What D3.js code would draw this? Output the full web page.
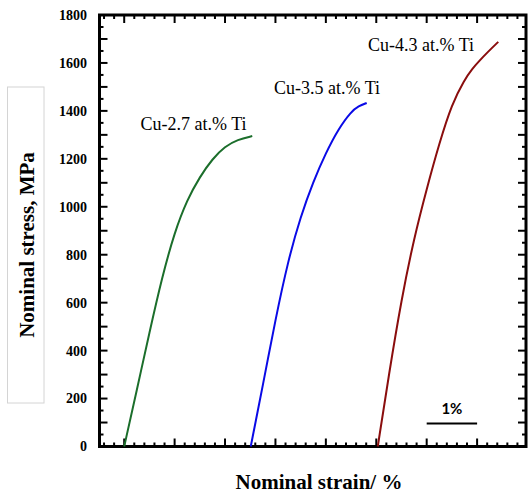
<!DOCTYPE html>
<html>
<head>
<meta charset="utf-8">
<script src="https://cdn.jsdelivr.net/npm/d3@7"></script>
<style>
  body { margin: 0; background: #fff; }
  svg { display: block; }
</style>
</head>
<body>
<div id="chart"></div>
<script>
// stress-strain curves, strain in %, stress in MPa (curves are offset along x)
const cu27Strain = [0, 0.25, 0.5, 0.75, 1.0, 1.25, 1.5, 1.75, 2.0, 2.25, 2.54];
const cu27Stress = [0, 235, 475, 705, 895, 1030, 1125, 1200, 1252, 1280, 1295];

const cu35Strain = [2.51, 2.75, 3.0, 3.25, 3.5, 3.75, 4.0, 4.25, 4.5, 4.65, 4.81];
const cu35Stress = [0, 255, 530, 775, 960, 1105, 1225, 1325, 1397, 1420, 1433];

const cu43Strain = [5.03, 5.25, 5.5, 5.75, 6.0, 6.25, 6.5, 6.75, 6.9, 7.05, 7.2, 7.42];
const cu43Stress = [0, 300, 615, 870, 1075, 1265, 1430, 1530, 1575, 1610, 1643, 1688];

const seriesNames = ["Cu-2.7 at.% Ti", "Cu-3.5 at.% Ti", "Cu-4.3 at.% Ti"];
const yTicks = [0, 200, 400, 600, 800, 1000, 1200, 1400, 1600, 1800];

const W = 529, H = 493;
const serif = "'Liberation Serif', 'Times New Roman', serif";

const svg = d3.select("#chart").append("svg")
  .attr("width", W).attr("height", H);

const x = d3.scaleLinear().domain([-0.49, 7.97]).range([99.5, 526]);
const y = d3.scaleLinear().domain([0, 1800]).range([446.5, 15]);

// ticks -- all point inward
const xMinor = d3.range(-0.4, 7.9, 0.2).map(v => +v.toFixed(1));
const yMinor = d3.range(0, 1801, 50);
const isMajorX = v => Math.abs(v - Math.round(v)) < 1e-6;
const tickLenX = v => isMajorX(v) ? 8 : 4;
const tickLenY = v => v % 100 === 0 ? 8 : 4;

const ticks = svg.append("g").attr("stroke", "#000").attr("stroke-width", 2);

ticks.selectAll("line.bx").data(xMinor).enter().append("line")
  .attr("class", "bx")
  .attr("x1", d => x(d)).attr("x2", d => x(d))
  .attr("y1", y(0)).attr("y2", d => y(0) - tickLenX(d));

ticks.selectAll("line.tx").data(xMinor).enter().append("line")
  .attr("class", "tx")
  .attr("x1", d => x(d)).attr("x2", d => x(d))
  .attr("y1", y(1800)).attr("y2", d => y(1800) + tickLenX(d));

ticks.selectAll("line.ly").data(yMinor).enter().append("line")
  .attr("class", "ly")
  .attr("y1", d => y(d)).attr("y2", d => y(d))
  .attr("x1", x.range()[0]).attr("x2", d => x.range()[0] + tickLenY(d));

ticks.selectAll("line.ry").data(yMinor).enter().append("line")
  .attr("class", "ry")
  .attr("y1", d => y(d)).attr("y2", d => y(d))
  .attr("x1", x.range()[1]).attr("x2", d => x.range()[1] - tickLenY(d));

// y tick labels
svg.append("g").selectAll("text").data(yTicks).enter().append("text")
  .attr("x", 87).attr("y", d => y(d)).attr("dy", "0.35em")
  .attr("text-anchor", "end")
  .attr("font-family", serif).attr("font-weight", "bold").attr("font-size", 14)
  .text(d => d);

// frame
svg.append("rect")
  .attr("x", x.range()[0]).attr("y", y(1800))
  .attr("width", x.range()[1] - x.range()[0]).attr("height", y(0) - y(1800))
  .attr("fill", "none").attr("stroke", "#000").attr("stroke-width", 3);

// curves
const line = d3.line().x(d => x(d[0])).y(d => y(d[1])).curve(d3.curveBasis);
const curves = [
  { strain: cu27Strain, stress: cu27Stress, color: "#1b6e2b" },
  { strain: cu35Strain, stress: cu35Stress, color: "#0a0ae6" },
  { strain: cu43Strain, stress: cu43Stress, color: "#8a0d0d" }
];
curves.forEach(c => {
  svg.append("path")
    .datum(d3.zip(c.strain, c.stress))
    .attr("d", line)
    .attr("fill", "none").attr("stroke", c.color).attr("stroke-width", 2);
});

// curve labels
const labelPos = [[140.5, 130], [274, 94], [368, 51]];
svg.append("g").selectAll("text").data(seriesNames).enter().append("text")
  .attr("x", (d, i) => labelPos[i][0]).attr("y", (d, i) => labelPos[i][1])
  .attr("font-family", serif).attr("font-size", 18)
  .text(d => d);

// 1% scale bar
svg.append("line")
  .attr("x1", x(6)).attr("x2", x(7)).attr("y1", 423.5).attr("y2", 423.5)
  .attr("stroke", "#000").attr("stroke-width", 2);
svg.append("text")
  .attr("x", (x(6) + x(7)) / 2).attr("y", 414)
  .attr("text-anchor", "middle")
  .attr("font-family", "Lato, 'Open Sans', sans-serif").attr("font-weight", "bold").attr("font-size", 15)
  .text("1%");

// axis titles
svg.append("text")
  .attr("x", 319).attr("y", 489)
  .attr("text-anchor", "middle")
  .attr("font-family", serif).attr("font-weight", "bold").attr("font-size", 21)
  .text("Nominal strain/ %");

svg.append("rect")
  .attr("x", 7.5).attr("y", 87).attr("width", 36.5).attr("height", 316)
  .attr("fill", "none").attr("stroke", "#d4d4d4").attr("stroke-width", 1);

svg.append("text")
  .attr("transform", "translate(34,245) rotate(-90)")
  .attr("text-anchor", "middle")
  .attr("font-family", serif).attr("font-weight", "bold").attr("font-size", 21)
  .text("Nominal stress, MPa");
</script>
</body>
</html>
